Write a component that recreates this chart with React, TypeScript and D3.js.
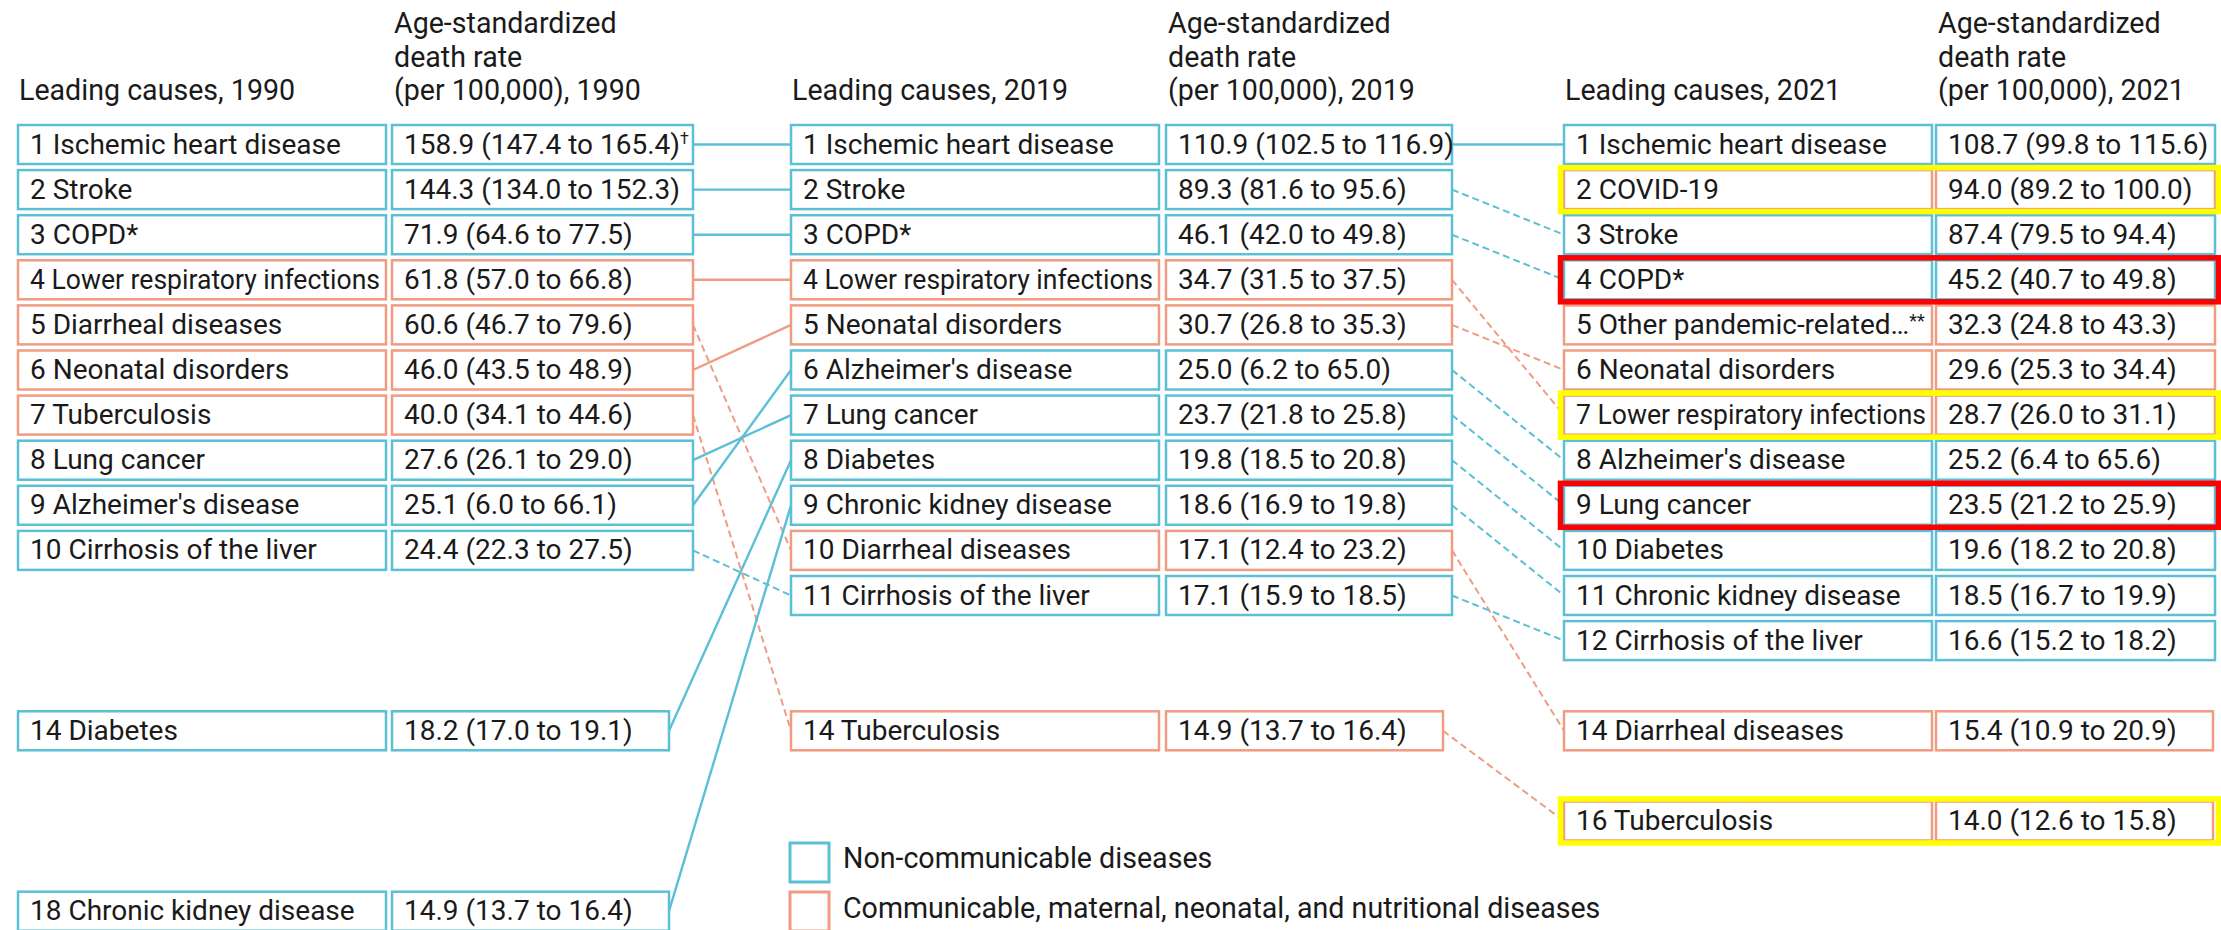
import React, { useLayoutEffect, useRef } from "react";
import * as d3 from "d3";

// ---------- DATA ----------
const causes1990 = ["Ischemic heart disease", "Stroke", "COPD*", "Lower respiratory infections", "Diarrheal diseases", "Neonatal disorders", "Tuberculosis", "Lung cancer", "Alzheimer's disease", "Cirrhosis of the liver", "Diabetes", "Chronic kidney disease"];
const ranks1990 = [1, 2, 3, 4, 5, 6, 7, 8, 9, 10, 14, 18];
const rates1990 = [158.9, 144.3, 71.9, 61.8, 60.6, 46.0, 40.0, 27.6, 25.1, 24.4, 18.2, 14.9];
const lower1990 = [147.4, 134.0, 64.6, 57.0, 46.7, 43.5, 34.1, 26.1, 6.0, 22.3, 17.0, 13.7];
const upper1990 = [165.4, 152.3, 77.5, 66.8, 79.6, 48.9, 44.6, 29.0, 66.1, 27.5, 19.1, 16.4];

const causes2019 = ["Ischemic heart disease", "Stroke", "COPD*", "Lower respiratory infections", "Neonatal disorders", "Alzheimer's disease", "Lung cancer", "Diabetes", "Chronic kidney disease", "Diarrheal diseases", "Cirrhosis of the liver", "Tuberculosis"];
const ranks2019 = [1, 2, 3, 4, 5, 6, 7, 8, 9, 10, 11, 14];
const rates2019 = [110.9, 89.3, 46.1, 34.7, 30.7, 25.0, 23.7, 19.8, 18.6, 17.1, 17.1, 14.9];
const lower2019 = [102.5, 81.6, 42.0, 31.5, 26.8, 6.2, 21.8, 18.5, 16.9, 12.4, 15.9, 13.7];
const upper2019 = [116.9, 95.6, 49.8, 37.5, 35.3, 65.0, 25.8, 20.8, 19.8, 23.2, 18.5, 16.4];

const causes2021 = ["Ischemic heart disease", "COVID-19", "Stroke", "COPD*", "Other pandemic-related…", "Neonatal disorders", "Lower respiratory infections", "Alzheimer's disease", "Lung cancer", "Diabetes", "Chronic kidney disease", "Cirrhosis of the liver", "Diarrheal diseases", "Tuberculosis"];
const ranks2021 = [1, 2, 3, 4, 5, 6, 7, 8, 9, 10, 11, 12, 14, 16];
const rates2021 = [108.7, 94.0, 87.4, 45.2, 32.3, 29.6, 28.7, 25.2, 23.5, 19.6, 18.5, 16.6, 15.4, 14.0];
const lower2021 = [99.8, 89.2, 79.5, 40.7, 24.8, 25.3, 26.0, 6.4, 21.2, 18.2, 16.7, 15.2, 10.9, 12.6];
const upper2021 = [115.6, 100.0, 94.4, 49.8, 43.3, 34.4, 31.1, 65.6, 25.9, 20.8, 19.9, 18.2, 20.9, 15.8];

const communicable = ["Lower respiratory infections", "Diarrheal diseases", "Neonatal disorders", "Tuberculosis", "COVID-19", "Other pandemic-related…"];
const years = ["1990", "2019", "2021"];
const highlightYellow2021 = ["COVID-19", "Lower respiratory infections", "Tuberculosis"];
const highlightRed2021 = ["COPD*", "Lung cancer"];
const legendLabels = ["Non-communicable diseases", "Communicable, maternal, neonatal, and nutritional diseases"];

// ---------- STYLE ----------
const BLUE = "#5bbfd6";
const ORANGE = "#f09c82";
const TEXT = "#1a1a1a";
const FONT = "Roboto, 'Liberation Sans', Arial, sans-serif";
const FS = 28;
const FS_HEAD = 28.6;

const columns = [
  { causes: causes1990, ranks: ranks1990, rates: rates1990, lo: lower1990, hi: upper1990, nameX: 18, valX: 392, valW: 301 },
  { causes: causes2019, ranks: ranks2019, rates: rates2019, lo: lower2019, hi: upper2019, nameX: 791, valX: 1166, valW: 286 },
  { causes: causes2021, ranks: ranks2021, rates: rates2021, lo: lower2021, hi: upper2021, nameX: 1564, valX: 1936, valW: 279 },
];
const NAME_W = 368;
const DETACHED_W = 277;
const ROW_H = 39;

const yTop = d3.scaleLinear().domain([1, 18]).range([125, 125 + 17 * 45.1]);
const fmt = d3.format(".1f");
const colorOf = (c: string) => (communicable.includes(c) ? ORANGE : BLUE);

function valueWidth(col: any, rank: number) {
  let n = 0;
  while (col.ranks.includes(n + 1)) n++;
  return rank <= n ? col.valW : DETACHED_W;
}

export default function App() {
  const ref = useRef<SVGSVGElement>(null);

  useLayoutEffect(() => {
    const svg = ref.current;
    if (!svg) return;
    svg.querySelectorAll("text[data-max]").forEach((el: any) => {
      const max = +el.getAttribute("data-max");
      const w = el.getComputedTextLength();
      if (w > max) {
        el.setAttribute("textLength", String(max));
        el.setAttribute("lengthAdjust", "spacingAndGlyphs");
      }
    });
  }, []);

  const lines: any[] = [];
  for (let ci = 0; ci < 2; ci++) {
    const a = columns[ci], b = columns[ci + 1];
    a.causes.forEach((c, i) => {
      const j = b.causes.indexOf(c);
      if (j < 0) return;
      const r1 = a.ranks[i], r2 = b.ranks[j];
      lines.push({
        key: `${ci}-${c}`,
        x1: a.valX + valueWidth(a, r1),
        y1: yTop(r1) + ROW_H / 2,
        x2: b.nameX,
        y2: yTop(r2) + ROW_H / 2,
        color: colorOf(c),
        dashed: r2 > r1,
      });
    });
  }

  return (
    <svg ref={ref} width={2221} height={930} style={{ position: "absolute", left: 0, top: 0, background: "#fff" }} fontFamily={FONT}>
      <rect x={0} y={0} width={2221} height={930} fill="#fff" />
      {columns.map((col, ci) => (
        <g key={`h${ci}`} fill={TEXT} fontSize={FS_HEAD}>
          <text x={col.nameX + 1} y={100}>{`Leading causes, ${years[ci]}`}</text>
          <text x={col.valX + 2} y={33}>Age-standardized</text>
          <text x={col.valX + 2} y={67}>death rate</text>
          <text x={col.valX + 2} y={100}>{`(per 100,000), ${years[ci]}`}</text>
        </g>
      ))}
      {lines.map((l) => (
        <line key={l.key} x1={l.x1} y1={l.y1} x2={l.x2} y2={l.y2} stroke={l.color}
          strokeWidth={l.dashed ? 2 : 2.4} strokeDasharray={l.dashed ? "7 4" : undefined} />
      ))}
      {columns.map((col, ci) => (
        <g key={`c${ci}`}>
          {col.causes.map((c, i) => {
            const r = col.ranks[i];
            const y = yTop(r);
            const color = colorOf(c);
            const vw = valueWidth(col, r);
            const isDagger = ci === 0 && i === 0;
            const isOther = c === "Other pandemic-related…";
            return (
              <g key={c}>
                <rect x={col.nameX} y={y} width={NAME_W} height={ROW_H} fill="#fff" stroke={color} strokeWidth={2.5} />
                <rect x={col.valX} y={y} width={vw} height={ROW_H} fill="#fff" stroke={color} strokeWidth={2.5} />
                <text x={col.nameX + 12} y={y + ROW_H / 2 + 9} fontSize={FS} fill={TEXT} data-max={isOther ? undefined : NAME_W - 18}>
                  {`${r} ${c}`}
                  {isOther && <tspan fontSize={18} dy={-7}>**</tspan>}
                </text>
                <text x={col.valX + 12} y={y + ROW_H / 2 + 9} fontSize={FS} fill={TEXT}>
                  {`${fmt(col.rates[i])} (${fmt(col.lo[i])} to ${fmt(col.hi[i])})`}
                  {isDagger && <tspan fontSize={16} dy={-10}>†</tspan>}
                </text>
              </g>
            );
          })}
        </g>
      ))}
      {columns[2].causes.map((c, i) => {
        const isY = highlightYellow2021.includes(c);
        const isR = highlightRed2021.includes(c);
        if (!isY && !isR) return null;
        const y = yTop(columns[2].ranks[i]);
        return (
          <rect key={`hl${c}`} x={1560.5} y={y - 2.5} width={2218.5 - 1560.5} height={ROW_H + 5}
            fill="none" stroke={isY ? "#ffff00" : "#ff0000"} strokeWidth={5.5} />
        );
      })}
      {legendLabels.map((lab, i) => (
        <g key={lab}>
          <rect x={790} y={843 + i * 49} width={39} height={39} fill="#fff" stroke={i === 0 ? BLUE : ORANGE} strokeWidth={3} />
          <text x={843} y={868 + i * 50} fontSize={FS_HEAD} fill={TEXT}>{lab}</text>
        </g>
      ))}
    </svg>
  );
}
